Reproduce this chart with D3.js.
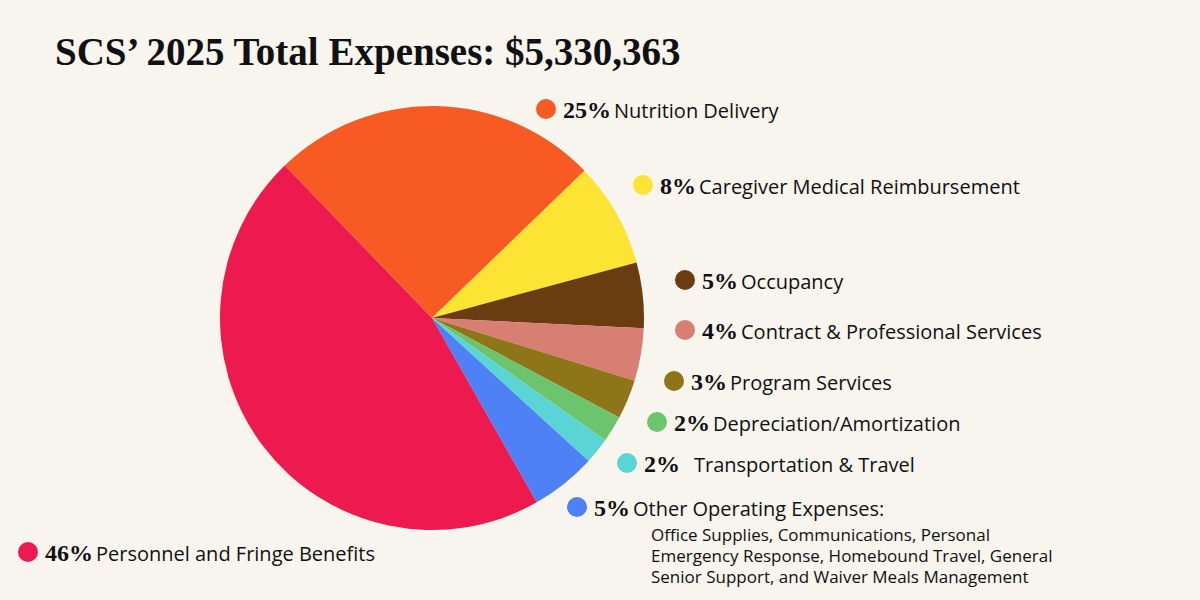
<!DOCTYPE html>
<html><head><meta charset="utf-8">
<script src="https://cdn.jsdelivr.net/npm/d3@7"></script>
<style>body{margin:0;background:#f7f5ee}</style>
</head><body><svg id="c" width="1200" height="600"></svg>
<script>
const categories = ["Nutrition Delivery","Caregiver Medical Reimbursement","Occupancy","Contract & Professional Services","Program Services","Depreciation/Amortization","Transportation & Travel","Other Operating Expenses:","Personnel and Fringe Benefits"];
const values = [25,8,5,4,3,2,2,5,46];
const colors = ["#f75a22","#fde333","#6b3c12","#d77f73","#8d7518","#6cc46c","#5ad5d5","#4e81f5","#ec1a4f"];
const labelPos = [[546,109],[643,185],[685,280],[685,330],[674,381],[657,422],[627,463],[577,507],[28,552]];
const otherLines = ["Office Supplies, Communications, Personal","Emergency Response, Homebound Travel, General","Senior Support, and Waiver Meals Management"];
const title = "SCS’ 2025 Total Expenses: $5,330,363";

const svg = d3.select("#c");
svg.append("rect").attr("width",1200).attr("height",600).attr("fill","#f7f5ee");
svg.append("text").attr("x",55).attr("y",65).attr("font-family","Liberation Serif, serif")
  .attr("font-weight","bold").attr("font-size",39).attr("fill","#111").text(title);

const start = -44*Math.PI/180;
const pie = d3.pie().sort(null).startAngle(start).endAngle(start+2*Math.PI);
const arc = d3.arc().innerRadius(0).outerRadius(212);
svg.append("g").attr("transform","translate(432,318)").selectAll("path")
  .data(pie(values)).join("path").attr("d",arc).attr("fill",(d,i)=>colors[i]);

const lg = svg.append("g");
categories.forEach((c,i)=>{
  const [x,y]=labelPos[i];
  lg.append("circle").attr("cx",x).attr("cy",y).attr("r",10).attr("fill",colors[i]);
  const t = lg.append("text").attr("x",x+17).attr("y",y+9).attr("fill","#111");
  t.append("tspan").attr("font-family","Liberation Serif, serif").attr("font-weight","bold")
    .attr("font-size",24).text(values[i]+"%");
  t.append("tspan").attr("font-family","Open Sans, sans-serif").attr("font-size",20)
    .attr("dx", i===6?14:3).text(c);
});
otherLines.forEach((l,j)=>{
  lg.append("text").attr("x",651).attr("y",541+j*21).attr("font-family","Open Sans, sans-serif")
    .attr("font-size",17).attr("fill","#111").text(l);
});
</script></body></html>
